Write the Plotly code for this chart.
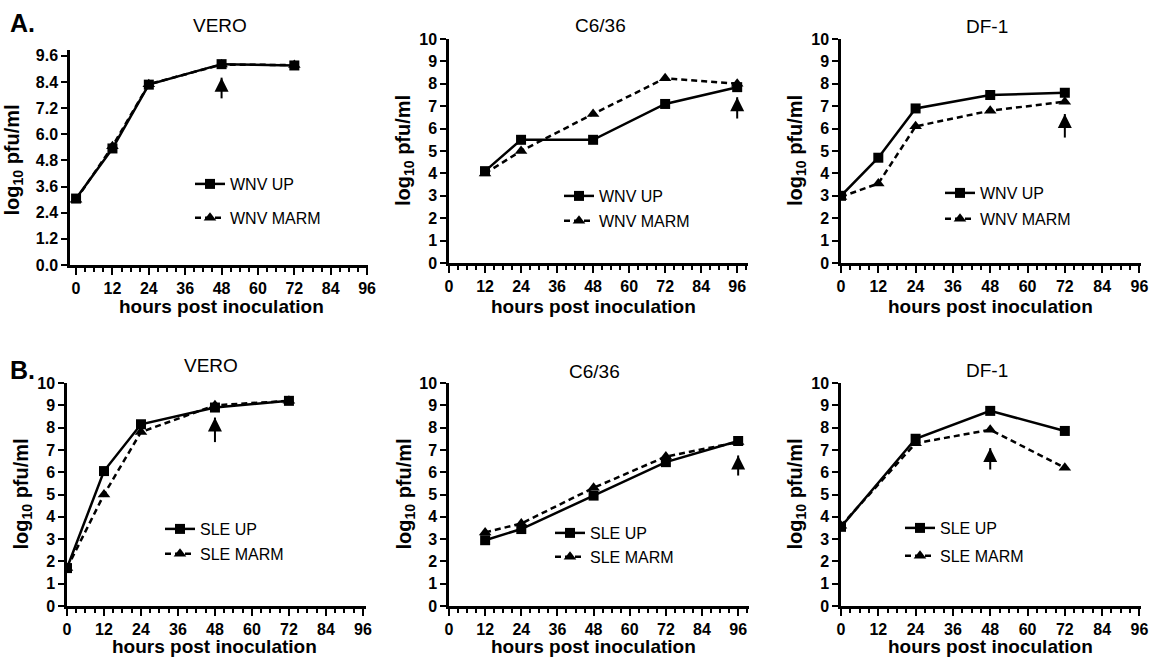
import plotly.graph_objects as go

W, H = 1151, 657
FONT = "Liberation Sans"

# ---------------- data ----------------
# Panel A: WNV
A_vero_hours = [0, 12, 24, 48, 72]
A_vero_up = [3.05, 5.35, 8.28, 9.22, 9.16]
A_vero_marm = [3.0, 5.45, 8.3, 9.2, 9.18]

A_c636_hours = [12, 24, 48, 72, 96]
A_c636_up = [4.1, 5.5, 5.5, 7.1, 7.85]
A_c636_marm = [4.0, 5.0, 6.65, 8.25, 8.0]

A_df1_hours = [0, 12, 24, 48, 72]
A_df1_up = [3.0, 4.7, 6.9, 7.5, 7.6]
A_df1_marm = [2.95, 3.55, 6.1, 6.8, 7.2]

# Panel B: SLE
B_vero_hours = [0, 12, 24, 48, 72]
B_vero_up = [1.7, 6.05, 8.15, 8.9, 9.2]
B_vero_marm = [1.7, 5.0, 7.8, 9.0, 9.2]

B_c636_hours = [12, 24, 48, 72, 96]
B_c636_up = [2.95, 3.45, 4.95, 6.45, 7.4]
B_c636_marm = [3.3, 3.7, 5.3, 6.7, 7.35]

B_df1_hours = [0, 24, 48, 72]
B_df1_up = [3.55, 7.5, 8.75, 7.85]
B_df1_marm = [3.6, 7.3, 7.9, 6.2]

# arrows (hour, tip value, tail value)
arrow_hour = [48, 96, 72, 48, 96, 48]
arrow_tip = [8.6, 7.4, 6.65, 8.45, 6.75, 7.08]
arrow_tail = [7.65, 6.45, 5.6, 7.35, 5.85, 6.12]

panel_titles = ["VERO", "C6/36", "DF-1", "VERO", "C6/36", "DF-1"]
series_names_A = ["WNV UP", "WNV MARM"]
series_names_B = ["SLE UP", "SLE MARM"]
x_ticks = [0, 12, 24, 36, 48, 60, 72, 84, 96]
x_title = "hours post inoculation"
y_title = "<b>log<sub>10</sub> pfu/ml</b>"

# ---------------- layout geometry (pixels) ----------------
# (x_left, x_right, y_top, y_bottom, x_range, y_range, y_dtick, tickformat)
geom = [
    (70, 368, 50, 265, [-2, 96.3], [0, 9.87], 1.2, ".1f"),
    (449, 748, 39, 263, [0, 99.6], [0, 10], 1, "d"),
    (841, 1141, 39, 263, [0, 96.5], [0, 10], 1, "d"),
    (67, 366, 383, 606, [0, 97], [0, 10], 1, "d"),
    (449, 749, 383, 606, [0, 99.6], [0, 10], 1, "d"),
    (841, 1141, 383, 606, [0, 96.5], [0, 10], 1, "d"),
]
title_pos = [(220, 25), (600, 25), (987, 26), (211, 365), (594, 371), (987, 370)]
ytitle_x = [13, 405, 797, 22, 405, 796]
xtitle_y = [307, 307, 307, 646, 646, 646]
legend_pos = [(198, 183, 10), (567, 195, 1), (948, 192, 2),
              (168, 528, 1), (558, 532, 0), (908, 527, 4)]

data = [
    (A_vero_hours, A_vero_up, A_vero_marm, series_names_A),
    (A_c636_hours, A_c636_up, A_c636_marm, series_names_A),
    (A_df1_hours, A_df1_up, A_df1_marm, series_names_A),
    (B_vero_hours, B_vero_up, B_vero_marm, series_names_B),
    (B_c636_hours, B_c636_up, B_c636_marm, series_names_B),
    (B_df1_hours, B_df1_up, B_df1_marm, series_names_B),
]


def px_x(p):
    return p / W


def px_y(p):
    return 1 - p / H


fig = go.Figure()
annotations = []
layout = dict(
    width=W, height=H,
    margin=dict(l=0, r=0, t=0, b=0, pad=0, autoexpand=False),
    paper_bgcolor="white", plot_bgcolor="white", showlegend=True,
    font=dict(family=FONT, color="black"),
)

for i, ((hrs, up, marm, names), g) in enumerate(zip(data, geom)):
    k = i + 1
    xa = "x" if k == 1 else f"x{k}"
    ya = "y" if k == 1 else f"y{k}"
    leg = "legend" if k == 1 else f"legend{k}"
    xl, xr, yt, yb, xrng, yrng, ydt, yfmt = g

    # dashed MARM drawn first, UP solid on top
    fig.add_trace(go.Scatter(
        x=hrs, y=marm, name=names[1], mode="lines+markers",
        line=dict(color="black", width=2.5, dash="6px,4px"),
        marker=dict(symbol="triangle-up", size=11, color="black"),
        xaxis=xa, yaxis=ya, legend=leg, legendgroup=f"m{k}", legendrank=2,
    ))
    fig.add_trace(go.Scatter(
        x=hrs, y=up, name=names[0], mode="lines+markers",
        line=dict(color="black", width=2.5),
        marker=dict(symbol="square", size=10, color="black"),
        xaxis=xa, yaxis=ya, legend=leg, legendgroup=f"u{k}", legendrank=1,
    ))
    # upward arrow: stem + arrow-up head (tip sits on the data value)
    fig.add_trace(go.Scatter(
        x=[arrow_hour[i], arrow_hour[i]], y=[arrow_tail[i], arrow_tip[i]],
        mode="lines", line=dict(color="black", width=2),
        xaxis=xa, yaxis=ya, showlegend=False, hoverinfo="skip",
    ))
    fig.add_trace(go.Scatter(
        x=[arrow_hour[i]], y=[arrow_tip[i]], mode="markers",
        marker=dict(symbol="arrow-up", size=14, color="black",
                    line=dict(width=0)),
        xaxis=xa, yaxis=ya, showlegend=False, hoverinfo="skip",
    ))

    xkey = "xaxis" if k == 1 else f"xaxis{k}"
    ykey = "yaxis" if k == 1 else f"yaxis{k}"
    layout[xkey] = dict(
        domain=[px_x(xl), px_x(xr)], range=xrng, anchor=ya, automargin=False,
        showline=True, linecolor="black", linewidth=2.5, mirror=False,
        showgrid=False, zeroline=False,
        tickmode="array", tickvals=x_ticks, ticks="outside", ticklen=7,
        tickwidth=2, tickcolor="black",
        tickfont=dict(family=FONT, size=16, color="black", weight=700),
        minor=dict(dtick=3, tick0=0, ticks="outside", ticklen=4, tickwidth=2,
                   tickcolor="black", showgrid=False),
        fixedrange=True,
    )
    layout[ykey] = dict(
        domain=[px_y(yb), px_y(yt)], range=yrng, anchor=xa, automargin=False,
        showline=True, linecolor="black", linewidth=2.5,
        showgrid=False, zeroline=False,
        tick0=0, dtick=ydt, tickformat=yfmt, ticks="outside", ticklen=6,
        tickwidth=2, tickcolor="black",
        tickfont=dict(family=FONT, size=16, color="black", weight=700),
        fixedrange=True,
    )

    lx, ly, gap = legend_pos[i]
    layout[leg] = dict(
        x=px_x(lx - 8), y=px_y(ly - 16), xanchor="left", yanchor="top",
        bgcolor="rgba(0,0,0,0)", borderwidth=0,
        font=dict(family=FONT, size=16, color="black"),
        traceorder="grouped", tracegroupgap=gap, itemwidth=30,
    )

    # panel title
    tx, ty = title_pos[i]
    annotations.append(dict(
        x=px_x(tx), y=px_y(ty), xref="paper", yref="paper", text=panel_titles[i],
        showarrow=False, xanchor="center", yanchor="middle",
        font=dict(family=FONT, size=19, color="black"),
    ))
    # y-axis title
    annotations.append(dict(
        x=px_x(ytitle_x[i]), y=px_y((yt + yb) / 2 + (3 if k == 1 else 0)),
        xref="paper", yref="paper", text=y_title, textangle=-90,
        showarrow=False, xanchor="center", yanchor="middle",
        font=dict(family=FONT, size=20, color="black"),
    ))
    # x-axis title
    x0_px = xl + (0 - xrng[0]) / (xrng[1] - xrng[0]) * (xr - xl)
    x96_px = xl + (96 - xrng[0]) / (xrng[1] - xrng[0]) * (xr - xl)
    annotations.append(dict(
        x=px_x((x0_px + x96_px) / 2), y=px_y(xtitle_y[i]),
        xref="paper", yref="paper", text=f"<b>{x_title}</b>",
        showarrow=False, xanchor="center", yanchor="middle",
        font=dict(family=FONT, size=19, color="black"),
    ))

# panel letters
annotations.append(dict(x=px_x(8), y=px_y(23), xref="paper", yref="paper",
                        text="<b>A.</b>", showarrow=False, xanchor="left",
                        yanchor="middle", font=dict(family=FONT, size=25, color="black")))
annotations.append(dict(x=px_x(8), y=px_y(370), xref="paper", yref="paper",
                        text="<b>B.</b>", showarrow=False, xanchor="left",
                        yanchor="middle", font=dict(family=FONT, size=25, color="black")))

layout["annotations"] = annotations
fig.update_layout(**layout)
fig.write_html(
    "out.html",
    config={"displayModeBar": False},
    post_script="document.body.style.margin='0';document.body.style.overflow='hidden';",
)
